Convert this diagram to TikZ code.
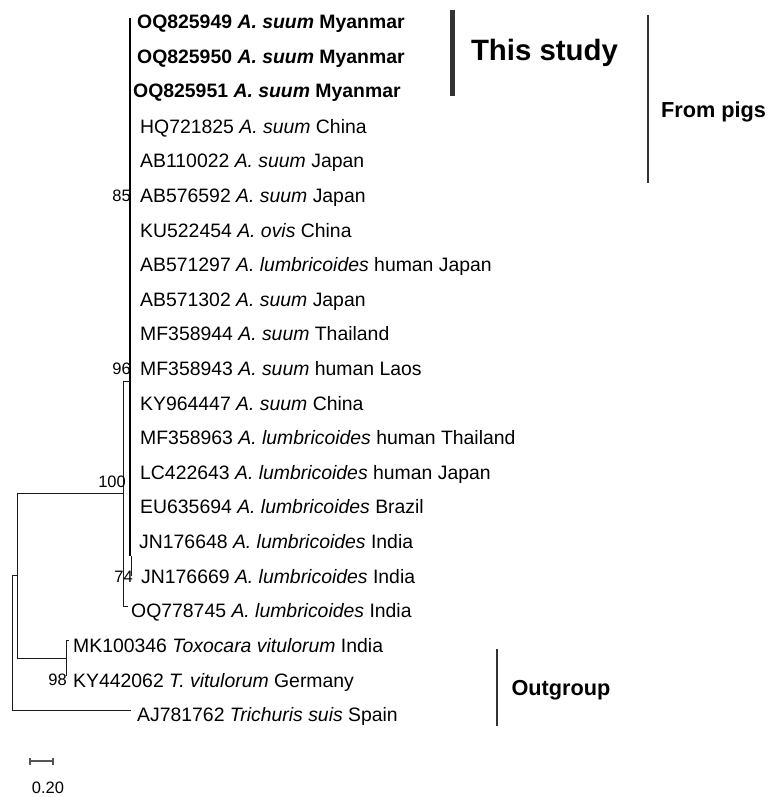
\documentclass[tikz,border=0pt]{standalone}
\usepackage{fontspec}
\setmainfont{Liberation Sans}
\usepackage{tikz}
\usetikzlibrary{calc, positioning, arrows.meta}
\definecolor{TreeInk}{HTML}{1A1A1A}
\definecolor{BarGrey}{HTML}{333333}
\definecolor{ScaleGrey}{HTML}{555555}

\begin{document}
\begin{tikzpicture}[
  x = 1pt, y = -1pt,
  taxon/.style    = {anchor=base west, yshift=-7pt, inner sep=0pt, font=\fontsize{19.4pt}{22pt}\selectfont},
  ours/.style     = {taxon, font=\fontsize{19.4pt}{22pt}\selectfont\bfseries},
  boot/.style     = {anchor=base east, yshift=-5.8pt, inner sep=0pt, font=\fontsize{16.5pt}{18pt}\selectfont},
  branch/.style   = {line width=1pt, draw=TreeInk},
  crown/.style    = {line width=2.6pt, draw=black},
  groupbar/.style = {line width=2pt, draw=BarGrey},
  grouptxt/.style = {anchor=base, yshift=-7.8pt, inner sep=0pt, font=\fontsize{21.7pt}{24pt}\selectfont\bfseries},
  scalebar/.style = {line width=1.6pt, draw=ScaleGrey, {Bar[width=7pt]}-{Bar[width=7pt]}}
]
  \useasboundingbox (0,0) rectangle (771,797);

  % Internal nodes
  \coordinate (root) at (12,642);
  \coordinate (nin)  at (17,575);
  \coordinate (n100) at (123,493);
  \coordinate (n96)  at (130,381);
  \coordinate (n74)  at (131,556);
  \coordinate (n98)  at (66,658);

  % Sequences from this study
  \node[ours] (t1) at (137,22)  {OQ825949 \textit{A.\ suum} Myanmar};
  \node[ours] (t2) at (137,57)  {OQ825950 \textit{A.\ suum} Myanmar};
  \node[ours] (t3) at (133,91)  {OQ825951 \textit{A.\ suum} Myanmar};

  % Reference sequences
  \node[taxon] (t4)  at (140,126) {HQ721825 \textit{A.\ suum} China};
  \node[taxon] (t5)  at (140,160) {AB110022 \textit{A.\ suum} Japan};
  \node[taxon] (t6)  at (140,195) {AB576592 \textit{A.\ suum} Japan};
  \node[taxon] (t7)  at (140,230) {KU522454 \textit{A.\ ovis} China};
  \node[taxon] (t8)  at (140,264) {AB571297 \textit{A.\ lumbricoides} human Japan};
  \node[taxon] (t9)  at (140,299) {AB571302 \textit{A.\ suum} Japan};
  \node[taxon] (t10) at (140,333) {MF358944 \textit{A.\ suum} Thailand};
  \node[taxon] (t11) at (140,368) {MF358943 \textit{A.\ suum} human Laos};
  \node[taxon] (t12) at (140,403) {KY964447 \textit{A.\ suum} China};
  \node[taxon] (t13) at (140,437) {MF358963 \textit{A.\ lumbricoides} human Thailand};
  \node[taxon] (t14) at (140,472) {LC422643 \textit{A.\ lumbricoides} human Japan};
  \node[taxon] (t15) at (140,506) {EU635694 \textit{A.\ lumbricoides} Brazil};
  \node[taxon] (t16) at (139,541) {JN176648 \textit{A.\ lumbricoides} India};
  \node[taxon] (t17) at (141,576) {JN176669 \textit{A.\ lumbricoides} India};
  \node[taxon] (t18) at (131,610) {OQ778745 \textit{A.\ lumbricoides} India};

  % Outgroup
  \node[taxon] (t19) at (73,645)  {MK100346 \textit{Toxocara vitulorum} India};
  \node[taxon] (t20) at (73,680)  {KY442062 \textit{T.\ vitulorum} Germany};
  \node[taxon] (t21) at (137,714) {AJ781762 \textit{Trichuris suis} Spain};

  % Branches (rows sit 11pt above each baseline)
  \draw[crown] ($(n96 |- t1.base west)+(0,-11)$) -- (n96 |- n74);
  \draw[branch] (n74) -- ($(n74 |- t17.base west)+(0,-7)$);
  \draw[branch] (n100 |- n96) -- (n96);
  \draw[branch] (n100 |- n96) -- ($(n100 |- t18.base west)+(0,-11)$) -- ($(t18.base west)+(-3,-11)$);
  \draw[branch] (nin |- n100) -- (n100);
  \draw[branch] (nin |- n100) -- (nin |- n98);
  \draw[branch] (nin |- n98) -- (n98);
  \draw[branch] ($(n98 |- t19.base west)+(3,-12)$) -- ($(n98 |- t19.base west)+(0,-12)$)
                -- ($(n98 |- t20.base west)+(0,-11)$);
  \draw[branch] (root |- nin) -- (nin);
  \draw[branch] (root |- nin) -- ($(root |- t21.base west)+(0,-11)$) -- ($(t21.base west)+(-6,-11)$);

  % Bootstrap values
  \node[boot] (b85)  at (131,196) {85};
  \node[boot] (b96)  at (131,369) {96};
  \node[boot] (b100) at (126,482) {100};
  \node[boot] (b74)  at (133,577) {74};
  \node[boot] (b98)  at (67,680)  {98};

  % Group marks
  \coordinate (studytop) at (452,10);
  \coordinate (studybot) at (452,96);
  \coordinate (pigstop)  at (648,15);
  \coordinate (pigsbot)  at (648,183);
  \coordinate (outtop)   at (497,649);
  \coordinate (outbot)   at (497,726);
  \draw[groupbar, line width=5pt] (studytop) -- (studybot);
  \draw[groupbar] (pigstop) -- (pigsbot);
  \draw[groupbar] (outtop) -- (outbot);
  \node[grouptxt, yshift=-2.7pt, font=\fontsize{29.4pt}{32pt}\selectfont\bfseries] (study) at (544.5,50) {This study};
  \node[grouptxt] (pigs) at (713.5,110) {From pigs};
  \node[grouptxt] (outg) at (561,688) {Outgroup};

  % Scale bar
  \coordinate (sl) at (29,761);
  \coordinate (sr) at (54,761);
  \draw[scalebar] (sl) -- (sr);
  \node[boot, anchor=base] (scale) at (48,788) {0.20};

\end{tikzpicture}
\end{document}
